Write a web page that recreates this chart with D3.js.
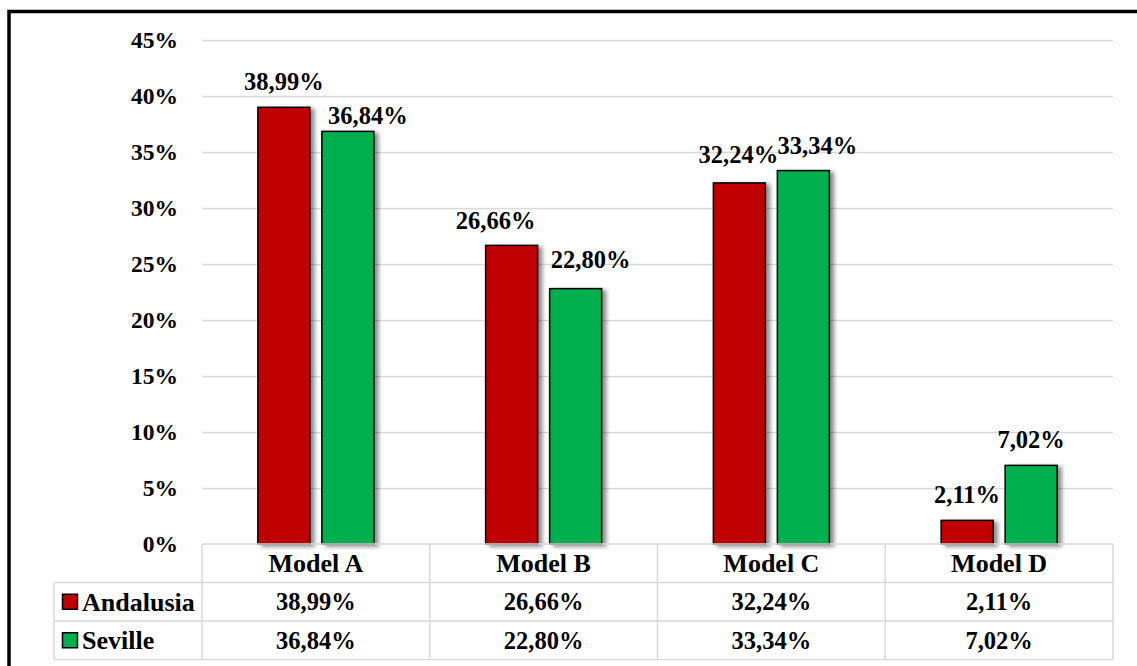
<!DOCTYPE html>
<html>
<head>
<meta charset="utf-8">
<script src="https://cdn.jsdelivr.net/npm/d3@7"></script>
<style>
  body { margin: 0; background: #fff; }
  text { font-family: "Liberation Serif", "Times New Roman", serif; font-weight: bold; fill: #000; }
</style>
</head>
<body>
<div class="chart"></div>
<script>
// data
var models = ["Model A", "Model B", "Model C", "Model D"];
var regions = ["Andalusia", "Seville"];
var andalusia = [38.99, 26.66, 32.24, 2.11];
var seville = [36.84, 22.80, 33.34, 7.02];
var yTicks = [0, 5, 10, 15, 20, 25, 30, 35, 40, 45];
var colors = ["#c00000", "#00b050"];

// labels that were dragged by hand in the original, [dx, dy] per model and region
var labelNudge = {
  "Model A|Seville": [20, 10],
  "Model B|Andalusia": [-16, 1],
  "Model B|Seville": [15, -3],
  "Model C|Andalusia": [-1, -2],
  "Model C|Seville": [14, 1]
};

var svgWidth = 1137;
var svgHeight = 666;

var plot = { left: 202, right: 1113, top: 40, bottom: 544 };
var tableLeft = 54;
var rowH = 38.5;
var numSize = 24.5;

var svg = d3.select(".chart")
  .append("svg")
  .attr("width", svgWidth)
  .attr("height", svgHeight);

// bar shadow
var defs = svg.append("defs");
defs.append("filter")
  .attr("id", "shadow")
  .attr("x", "-20%").attr("y", "-20%")
  .attr("width", "150%").attr("height", "150%")
  .append("feDropShadow")
  .attr("dx", 4).attr("dy", 2)
  .attr("stdDeviation", 2.2)
  .attr("flood-color", "#000")
  .attr("flood-opacity", 0.45);

// outer frame
svg.append("rect")
  .attr("x", 9)
  .attr("y", 11.5)
  .attr("width", 1200)
  .attr("height", 700)
  .attr("fill", "none")
  .attr("stroke", "#000")
  .attr("stroke-width", 3.5);

var xScale = d3.scaleBand()
  .domain(models)
  .range([plot.left, plot.right]);

var xInner = d3.scaleBand()
  .domain(regions)
  .range([0, xScale.bandwidth()])
  .paddingInner(0.1875)
  .paddingOuter(0.873);

var yScale = d3.scaleLinear()
  .domain([0, 45])
  .range([plot.bottom, plot.top]);

// gridlines + y labels
var yAxis = d3.axisLeft(yScale)
  .tickValues(yTicks)
  .tickSize(-(plot.right - plot.left))
  .tickPadding(24)
  .tickFormat(d => d + "%");

var yAxisGroup = svg.append("g")
  .attr("transform", `translate(${plot.left}, 0)`)
  .call(yAxis);

yAxisGroup.select(".domain").remove();
yAxisGroup.selectAll(".tick line")
  .attr("stroke", "#d9d9d9")
  .attr("stroke-width", 1.5)
  .filter(d => d === 0).remove();
yAxisGroup.attr("font-family", null).attr("font-size", null);
yAxisGroup.selectAll(".tick text")
  .attr("font-size", 23.5);

// bars
var rows = [];
models.forEach(function(m, i) {
  rows.push({ model: m, region: regions[0], value: andalusia[i], color: colors[0] });
  rows.push({ model: m, region: regions[1], value: seville[i], color: colors[1] });
});

var fmt = v => v.toFixed(2).replace(".", ",") + "%";

svg.append("g")
  .selectAll("rect")
  .data(rows)
  .enter()
  .append("rect")
  .attr("x", d => xScale(d.model) + xInner(d.region))
  .attr("y", d => yScale(d.value))
  .attr("width", xInner.bandwidth())
  .attr("height", d => yScale(0) - yScale(d.value))
  .attr("fill", d => d.color)
  .attr("stroke", "#000")
  .attr("stroke-width", 1.5)
  .attr("filter", "url(#shadow)");

// data labels
svg.append("g")
  .selectAll("text")
  .data(rows)
  .enter()
  .append("text")
  .attr("x", function(d) {
    var n = labelNudge[d.model + "|" + d.region] || [0, 0];
    return xScale(d.model) + xInner(d.region) + xInner.bandwidth() / 2 + n[0];
  })
  .attr("y", function(d) {
    var n = labelNudge[d.model + "|" + d.region] || [0, 0];
    return yScale(d.value) - 26 + n[1];
  })
  .attr("dy", "0.35em")
  .attr("text-anchor", "middle")
  .attr("font-size", numSize)
  .text(d => fmt(d.value));

// data table
var table = svg.append("g");
var lineColor = "#d9d9d9";
var tTop = plot.bottom;
var tBottom = tTop + rowH * 3;

// horizontal lines
[0, 1, 2, 3].forEach(function(r) {
  table.append("line")
    .attr("x1", r === 0 ? plot.left : tableLeft)
    .attr("x2", plot.right)
    .attr("y1", tTop + r * rowH)
    .attr("y2", tTop + r * rowH)
    .attr("stroke", lineColor)
    .attr("stroke-width", 1.5);
});

// vertical lines
table.append("line")
  .attr("x1", tableLeft).attr("x2", tableLeft)
  .attr("y1", tTop + rowH).attr("y2", tBottom)
  .attr("stroke", lineColor).attr("stroke-width", 1.5);

models.concat([null]).forEach(function(m) {
  var x = m === null ? plot.right : xScale(m);
  table.append("line")
    .attr("x1", x).attr("x2", x)
    .attr("y1", tTop).attr("y2", tBottom)
    .attr("stroke", lineColor).attr("stroke-width", 1.5);
});

// header
table.selectAll(".head")
  .data(models)
  .enter()
  .append("text")
  .attr("class", "head")
  .attr("x", d => xScale(d) + xScale.bandwidth() / 2)
  .attr("y", tTop + rowH / 2)
  .attr("dy", "0.35em")
  .attr("text-anchor", "middle")
  .attr("font-size", 26)
  .text(d => d);

// series rows
[andalusia, seville].forEach(function(vals, r) {
  var cy = tTop + rowH * (r + 1) + rowH / 2;

  table.append("rect")
    .attr("x", 62.5)
    .attr("y", cy - 7.5)
    .attr("width", 15)
    .attr("height", 15)
    .attr("fill", colors[r])
    .attr("stroke", "#000")
    .attr("stroke-width", 1.5);

  table.append("text")
    .attr("x", 82)
    .attr("y", cy)
    .attr("dy", "0.35em")
    .attr("font-size", 26)
    .text(regions[r]);

  table.selectAll(".v" + r)
    .data(vals)
    .enter()
    .append("text")
    .attr("class", "v" + r)
    .attr("x", (d, i) => xScale(models[i]) + xScale.bandwidth() / 2)
    .attr("y", cy)
    .attr("dy", "0.35em")
    .attr("text-anchor", "middle")
    .attr("font-size", numSize)
    .text(d => fmt(d));
});
</script>
</body>
</html>
